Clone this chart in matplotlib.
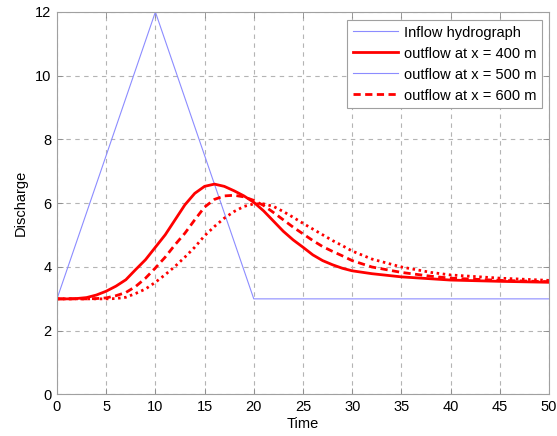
import matplotlib
matplotlib.use("Agg")
import matplotlib.pyplot as plt
import numpy as np

plt.rcParams["font.family"] = ["Liberation Sans", "DejaVu Sans"]

# inflow hydrograph (triangle on a base flow of 3)
inflow_t = [0, 10, 20, 50]
inflow_q = [3, 12, 3, 3]

# outflow series
t_out = [0, 1, 2, 3, 4, 5, 6, 7, 8, 9, 10, 11, 12, 13, 14, 15, 16, 17, 18, 19,
         20, 21, 22, 23, 24, 25, 26, 27, 28, 29, 30, 32, 35, 38, 40, 45, 50]
q_400 = [3.0, 3.0, 3.01, 3.04, 3.12, 3.24, 3.4, 3.6, 3.92, 4.23, 4.62, 5.01, 5.48, 5.95, 6.31, 6.53,
         6.6, 6.53, 6.39, 6.23, 6.03, 5.76, 5.44, 5.12, 4.85, 4.62, 4.38, 4.2, 4.07, 3.96, 3.88,
         3.79, 3.69, 3.63, 3.59, 3.55, 3.52]
q_500 = [3.0, 3.0, 3.0, 3.0, 3.01, 3.03, 3.1, 3.2, 3.39, 3.65, 3.97, 4.31, 4.7, 5.06, 5.48, 5.88,
         6.12, 6.23, 6.25, 6.2, 6.09, 5.93, 5.71, 5.48, 5.25, 5.04, 4.83, 4.64, 4.49, 4.35, 4.2,
         4.0, 3.83, 3.71, 3.65, 3.58, 3.54]
q_600 = [3.0, 3.0, 3.0, 3.0, 3.0, 3.0, 3.01, 3.05, 3.17, 3.31, 3.52, 3.76, 4.02, 4.31, 4.62, 4.98,
         5.27, 5.53, 5.74, 5.9, 5.98, 5.98, 5.9, 5.74, 5.56, 5.37, 5.19, 5.01, 4.83, 4.67, 4.5,
         4.25, 4.0, 3.83, 3.75, 3.65, 3.58]

legend_labels = ["Inflow hydrograph", "outflow at x = 400 m",
                 "outflow at x = 500 m", "outflow at x = 600 m"]

blue = "#8c8cff"
red = "#ff0000"

fig = plt.figure(figsize=(5.57, 4.36), dpi=100)
ax = fig.add_axes([0.1023, 0.0952, 0.8833, 0.8773])

h_in, = ax.plot(inflow_t, inflow_q, color=blue, lw=0.8)
h_400, = ax.plot(t_out, q_400, color=red, lw=2.0)
h_500, = ax.plot(t_out, q_500, color=red, lw=2.0, ls=(0, (2.6, 1.6)))
h_600, = ax.plot(t_out, q_600, color=red, lw=2.0, ls=(0, (0.9, 1.3)))

ax.set_xlim(0, 50)
ax.set_ylim(0, 12)
ax.set_xticks(np.arange(0, 51, 5))
ax.set_yticks(np.arange(0, 13, 2))
ax.grid(True, color="#b4b4b4", ls=(0, (4, 4)), lw=0.8)
ax.tick_params(direction="in", length=4, width=0.6, color="#888888",
               top=True, right=True, labelsize=10.5, pad=4)
for s in ax.spines.values():
    s.set_color("#a0a0a0")
    s.set_linewidth(0.8)

ax.set_xlabel("Time", fontsize=10.5, labelpad=2)
ax.set_ylabel("Discharge", fontsize=10.5, labelpad=5)

# the legend in the original pairs the third label with the thin blue style
h_leg500, = ax.plot([], [], color=blue, lw=0.8)
leg = ax.legend([h_in, h_400, h_leg500, h_500], legend_labels,
                loc="upper right", bbox_to_anchor=(0.9858, 0.979),
                borderaxespad=0, fontsize=10.5, handlelength=3.1,
                handletextpad=0.4, borderpad=0.38, labelspacing=0.48,
                fancybox=False, framealpha=1, edgecolor="#a0a0a0")
leg.get_frame().set_linewidth(0.8)

fig.savefig("out.png", dpi=100)
